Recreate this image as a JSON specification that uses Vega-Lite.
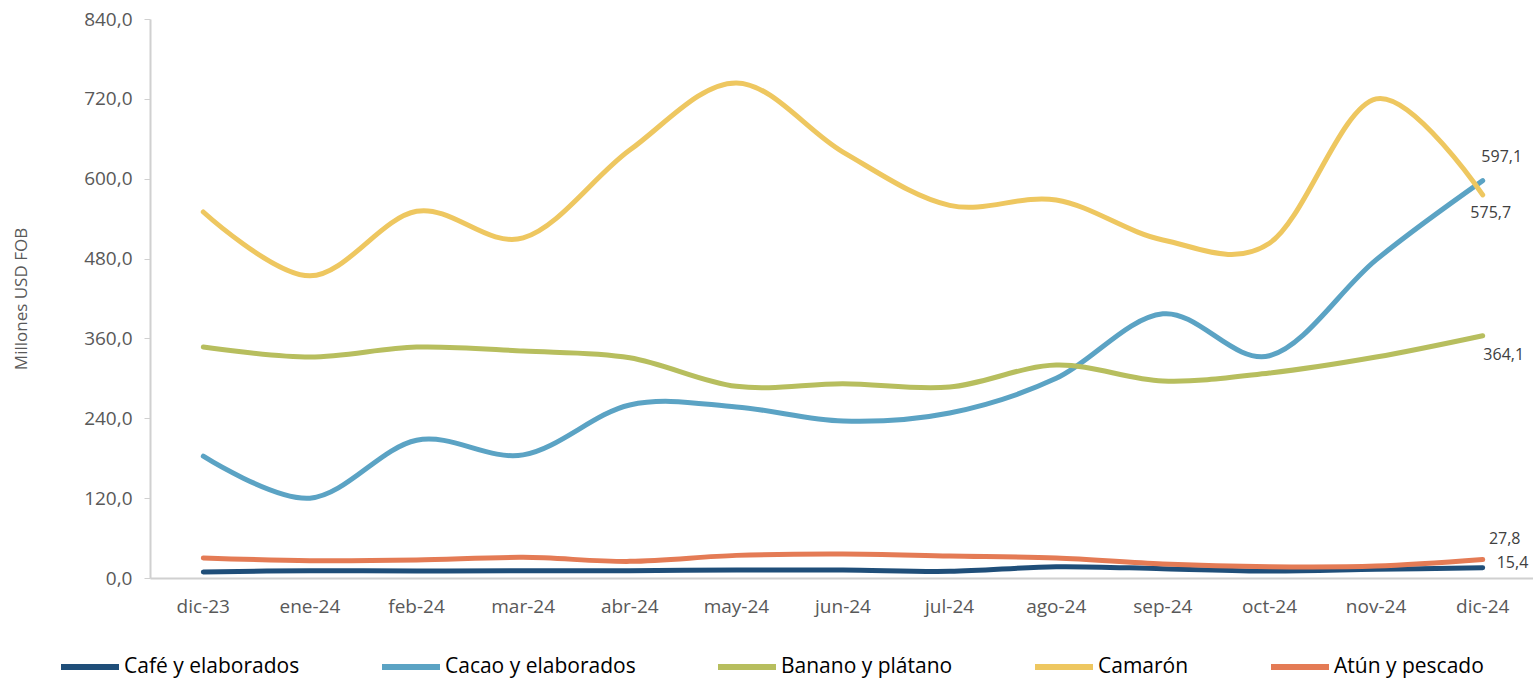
{
  "$schema": "https://vega.github.io/schema/vega-lite/v6.json",
  "width": 1386,
  "height": 559,
  "autosize": {"type": "none"},
  "padding": {"left": 150, "top": 19, "right": 0, "bottom": 102},
  "config": {
    "locale": {"number": {"decimal": ",", "thousands": ".", "grouping": [3], "currency": ["$", ""]}},
    "font": "Open Sans",
    "view": {"stroke": null},
    "axis": {"labelFont": "Open Sans", "titleFont": "Open Sans", "labelColor": "#595959", "titleColor": "#595959", "domainColor": "#d0d0d0", "tickColor": "#d0d0d0", "grid": false},
    "legend": {"labelFont": "Open Sans"}
  },
  "data": {"values": [
    {"mes": "dic-23", "serie": "Café y elaborados", "v": 9},
    {"mes": "ene-24", "serie": "Café y elaborados", "v": 11},
    {"mes": "feb-24", "serie": "Café y elaborados", "v": 10.5},
    {"mes": "mar-24", "serie": "Café y elaborados", "v": 11},
    {"mes": "abr-24", "serie": "Café y elaborados", "v": 11},
    {"mes": "may-24", "serie": "Café y elaborados", "v": 12},
    {"mes": "jun-24", "serie": "Café y elaborados", "v": 12},
    {"mes": "jul-24", "serie": "Café y elaborados", "v": 10},
    {"mes": "ago-24", "serie": "Café y elaborados", "v": 17},
    {"mes": "sep-24", "serie": "Café y elaborados", "v": 14},
    {"mes": "oct-24", "serie": "Café y elaborados", "v": 10.5},
    {"mes": "nov-24", "serie": "Café y elaborados", "v": 13},
    {"mes": "dic-24", "serie": "Café y elaborados", "v": 15.4},
    {"mes": "dic-23", "serie": "Cacao y elaborados", "v": 183},
    {"mes": "ene-24", "serie": "Cacao y elaborados", "v": 120},
    {"mes": "feb-24", "serie": "Cacao y elaborados", "v": 207},
    {"mes": "mar-24", "serie": "Cacao y elaborados", "v": 185},
    {"mes": "abr-24", "serie": "Cacao y elaborados", "v": 260},
    {"mes": "may-24", "serie": "Cacao y elaborados", "v": 257},
    {"mes": "jun-24", "serie": "Cacao y elaborados", "v": 236},
    {"mes": "jul-24", "serie": "Cacao y elaborados", "v": 248},
    {"mes": "ago-24", "serie": "Cacao y elaborados", "v": 300},
    {"mes": "sep-24", "serie": "Cacao y elaborados", "v": 397},
    {"mes": "oct-24", "serie": "Cacao y elaborados", "v": 334},
    {"mes": "nov-24", "serie": "Cacao y elaborados", "v": 478},
    {"mes": "dic-24", "serie": "Cacao y elaborados", "v": 597.1},
    {"mes": "dic-23", "serie": "Banano y plátano", "v": 347},
    {"mes": "ene-24", "serie": "Banano y plátano", "v": 332},
    {"mes": "feb-24", "serie": "Banano y plátano", "v": 347},
    {"mes": "mar-24", "serie": "Banano y plátano", "v": 341},
    {"mes": "abr-24", "serie": "Banano y plátano", "v": 331},
    {"mes": "may-24", "serie": "Banano y plátano", "v": 288},
    {"mes": "jun-24", "serie": "Banano y plátano", "v": 292},
    {"mes": "jul-24", "serie": "Banano y plátano", "v": 287},
    {"mes": "ago-24", "serie": "Banano y plátano", "v": 320},
    {"mes": "sep-24", "serie": "Banano y plátano", "v": 296},
    {"mes": "oct-24", "serie": "Banano y plátano", "v": 308},
    {"mes": "nov-24", "serie": "Banano y plátano", "v": 332},
    {"mes": "dic-24", "serie": "Banano y plátano", "v": 364.1},
    {"mes": "dic-23", "serie": "Camarón", "v": 550},
    {"mes": "ene-24", "serie": "Camarón", "v": 454},
    {"mes": "feb-24", "serie": "Camarón", "v": 551},
    {"mes": "mar-24", "serie": "Camarón", "v": 511},
    {"mes": "abr-24", "serie": "Camarón", "v": 643},
    {"mes": "may-24", "serie": "Camarón", "v": 744},
    {"mes": "jun-24", "serie": "Camarón", "v": 640},
    {"mes": "jul-24", "serie": "Camarón", "v": 560},
    {"mes": "ago-24", "serie": "Camarón", "v": 568},
    {"mes": "sep-24", "serie": "Camarón", "v": 508},
    {"mes": "oct-24", "serie": "Camarón", "v": 503},
    {"mes": "nov-24", "serie": "Camarón", "v": 720},
    {"mes": "dic-24", "serie": "Camarón", "v": 575.7},
    {"mes": "dic-23", "serie": "Atún y pescado", "v": 30},
    {"mes": "ene-24", "serie": "Atún y pescado", "v": 26},
    {"mes": "feb-24", "serie": "Atún y pescado", "v": 27},
    {"mes": "mar-24", "serie": "Atún y pescado", "v": 31},
    {"mes": "abr-24", "serie": "Atún y pescado", "v": 25},
    {"mes": "may-24", "serie": "Atún y pescado", "v": 34},
    {"mes": "jun-24", "serie": "Atún y pescado", "v": 36},
    {"mes": "jul-24", "serie": "Atún y pescado", "v": 33},
    {"mes": "ago-24", "serie": "Atún y pescado", "v": 30},
    {"mes": "sep-24", "serie": "Atún y pescado", "v": 21},
    {"mes": "oct-24", "serie": "Atún y pescado", "v": 17},
    {"mes": "nov-24", "serie": "Atún y pescado", "v": 18},
    {"mes": "dic-24", "serie": "Atún y pescado", "v": 27.8}
  ]},
  "encoding": {
    "x": {"field": "mes", "type": "ordinal", "sort": null, "scale": {"type": "band", "paddingInner": 0, "paddingOuter": 0},
      "axis": {"title": null, "labelAngle": 0, "labelFontSize": 19, "labelPadding": 19, "ticks": false, "domainWidth": 2}},
    "y": {"field": "v", "type": "quantitative", "scale": {"domain": [0, 840], "nice": false},
      "axis": {"values": [0, 120, 240, 360, 480, 600, 720, 840], "format": ".1f", "title": "Millones USD FOB", "titleFontSize": 17, "titleFontWeight": "normal", "titlePadding": 53, "labelFontSize": 19, "labelPadding": 12, "tickSize": 6, "domainWidth": 2}}
  },
  "layer": [
    {
      "mark": {"type": "line", "interpolate": "cardinal", "strokeWidth": 5, "strokeCap": "round"},
      "encoding": {
        "color": {"field": "serie", "type": "nominal",
          "scale": {"domain": ["Café y elaborados", "Cacao y elaborados", "Banano y plátano", "Camarón", "Atún y pescado"],
                    "range": ["#1F4E79", "#5BA3C4", "#B7BE5E", "#EEC760", "#E47B55"]},
          "legend": {"orient": "none", "legendX": -92, "legendY": 616, "direction": "horizontal", "title": null, "symbolType": "stroke", "symbolStrokeWidth": 6, "symbolSize": 3364, "labelFontSize": 21, "labelColor": "#000000", "labelLimit": 0, "columnPadding": 70, "labelOffset": 2}}
      }
    },
    {"transform": [{"filter": "datum.mes == 'dic-24' && datum.serie == 'Cacao y elaborados'"}],
     "mark": {"type": "text", "fontSize": 16, "color": "#404040", "dx": 19, "dy": -24},
     "encoding": {"text": {"field": "v", "type": "quantitative", "format": ".1f"}}},
    {"transform": [{"filter": "datum.mes == 'dic-24' && datum.serie == 'Camarón'"}],
     "mark": {"type": "text", "fontSize": 16, "color": "#404040", "dx": 8, "dy": 18},
     "encoding": {"text": {"field": "v", "type": "quantitative", "format": ".1f"}}},
    {"transform": [{"filter": "datum.mes == 'dic-24' && datum.serie == 'Banano y plátano'"}],
     "mark": {"type": "text", "fontSize": 16, "color": "#404040", "dx": 21, "dy": 19},
     "encoding": {"text": {"field": "v", "type": "quantitative", "format": ".1f"}}},
    {"transform": [{"filter": "datum.mes == 'dic-24' && datum.serie == 'Atún y pescado'"}],
     "mark": {"type": "text", "fontSize": 16, "color": "#404040", "dx": 22, "dy": -20},
     "encoding": {"text": {"field": "v", "type": "quantitative", "format": ".1f"}}},
    {"transform": [{"filter": "datum.mes == 'dic-24' && datum.serie == 'Café y elaborados'"}],
     "mark": {"type": "text", "fontSize": 16, "color": "#404040", "dx": 14, "dy": -5, "align": "left"},
     "encoding": {"text": {"field": "v", "type": "quantitative", "format": ".1f"}}}
  ]
}
